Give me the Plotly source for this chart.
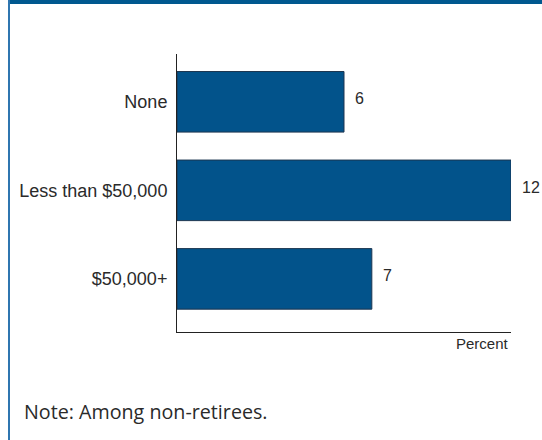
import plotly.graph_objects as go

# data
categories = ["None", "Less than $50,000", "$50,000+"]
values = [6, 12, 7]
note = "Note: Among non-retirees."
axis_title = "Percent"

BAR_COLOR = "#02538b"
TEXT_COLOR = "#2a2a2a"
LABEL_FONT = "Liberation Sans, Arial, sans-serif"

# plot area in pixels: x 177..511, y 54..332
W, H = 542, 440
L, R, T, B = 177, 31, 54, 108
pw, ph = W - L - R, H - T - B


def px_x(p):
    return (p - L) / pw


def px_y(p):
    return (H - B - p) / ph


fig = go.Figure()

fig.add_trace(go.Bar(
    x=values, y=categories, orientation="h",
    marker=dict(color=BAR_COLOR, line=dict(color="#1c3550", width=1)),
    width=0.684, hoverinfo="skip",
))

# value labels next to each bar
for cat, val in zip(categories, values):
    fig.add_annotation(
        x=val, y=cat, text=str(val), showarrow=False,
        xanchor="left", yanchor="middle", xshift=9, yshift=3,
        font=dict(family=LABEL_FONT, size=16, color=TEXT_COLOR),
    )

fig.add_annotation(
    xref="paper", yref="paper", x=1, y=px_y(343.5), text=axis_title,
    showarrow=False, xanchor="right", yanchor="middle",
    font=dict(family=LABEL_FONT, size=15, color=TEXT_COLOR),
)

fig.add_annotation(
    xref="paper", yref="paper", x=px_x(22), y=px_y(411), text=note,
    showarrow=False, xanchor="left", yanchor="middle",
    font=dict(family="Open Sans, sans-serif", size=19.7, color=TEXT_COLOR),
)

# frame: dark band on top, thin blue rule on the left
fig.add_shape(type="rect", xref="paper", yref="paper",
              x0=px_x(8), x1=px_x(542), y0=px_y(4), y1=px_y(0),
              fillcolor="#00588f", line_width=0, layer="above")
fig.add_shape(type="line", xref="paper", yref="paper",
              x0=px_x(9), x1=px_x(9), y0=px_y(440), y1=px_y(0),
              line=dict(color="#2f76b0", width=2), layer="above")

fig.update_layout(
    width=W, height=H,
    margin=dict(l=L, r=R, t=T, b=B),
    plot_bgcolor="white", paper_bgcolor="white",
    showlegend=False,
    xaxis=dict(range=[0, 12], showticklabels=False, showgrid=False,
               zeroline=False, showline=True, linecolor="#222222",
               linewidth=1, ticks=""),
    yaxis=dict(range=[2.6, -0.54], showgrid=False, zeroline=False,
               showline=True, linecolor="#222222", linewidth=1, ticks="",
               ticklabelstandoff=5,
               tickfont=dict(family=LABEL_FONT, size=18, color=TEXT_COLOR)),
)

fig.write_html("out.html", config={"displayModeBar": False},
               post_script="document.body.style.margin='0';")
